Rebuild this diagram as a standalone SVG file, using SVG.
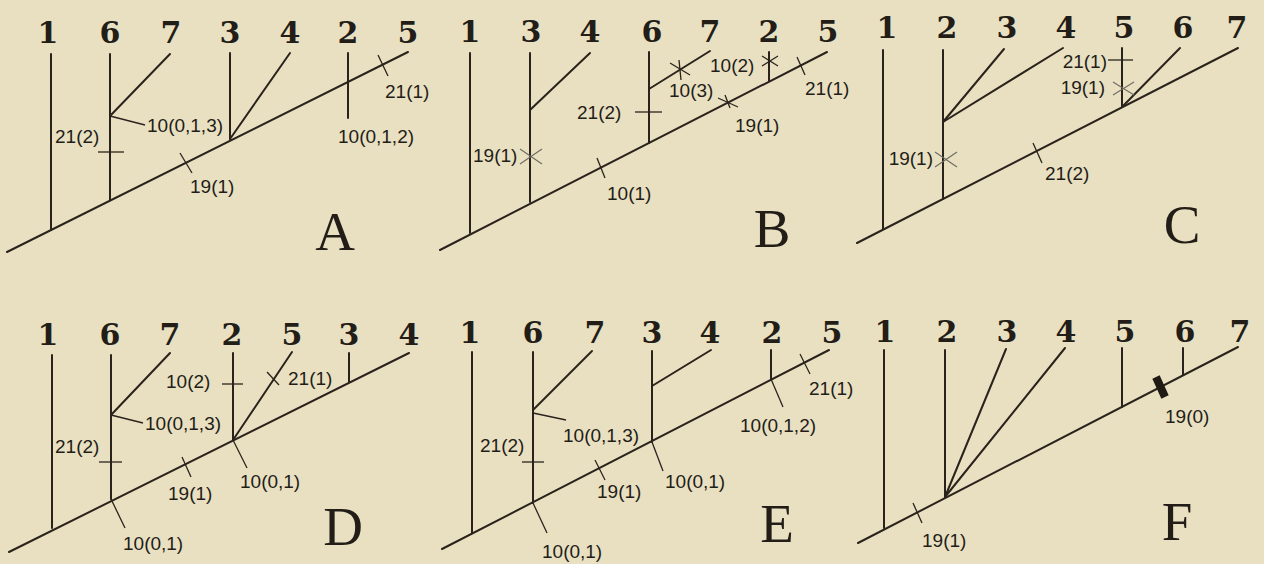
<svg xmlns="http://www.w3.org/2000/svg" width="1264" height="564" viewBox="0 0 1264 564">
<style>
.bg{fill:#e9e0c2}
.br{stroke:#2a231c;stroke-width:2;fill:none;stroke-linecap:round}
.th{stroke:#2a231c;stroke-width:1.3;fill:none}
.gx{stroke:#6e6a60;stroke-width:1.1;fill:none}
.bar{stroke:#1f1a14;stroke-width:8;fill:none}
.tx{font-family:"Dejavu Serif","DejaVu Serif",serif;font-weight:bold;font-size:30px;fill:#231d17;text-anchor:middle}
.lb{font-family:"Liberation Sans",Arial,sans-serif;font-size:19px;fill:#231d17}
.end{text-anchor:end}
.pl{font-family:"Liberation Serif","Times New Roman",serif;font-size:55px;fill:#231d17;text-anchor:middle}
</style>
<rect class="bg" x="0" y="0" width="1264" height="564"/>

<!-- Panel A -->
<g id="panelA">
<g id="A-connectors">
<line class="br" x1="7" y1="252" x2="408" y2="52"/>
<line class="br" x1="51" y1="54" x2="51" y2="230"/>
<line class="br" x1="110" y1="54" x2="110" y2="200"/>
<line class="br" x1="110" y1="116" x2="170" y2="54"/>
<line class="br" x1="230" y1="53" x2="230" y2="139"/>
<line class="br" x1="230" y1="139" x2="290" y2="53"/>
<line class="br" x1="348" y1="53" x2="348" y2="118"/>
<line class="th" x1="110" y1="116" x2="145" y2="125"/>
<line class="th" x1="98" y1="152" x2="124" y2="152"/>
<line class="th" x1="180" y1="153" x2="192" y2="173"/>
<line class="th" x1="378" y1="55" x2="388" y2="76"/>
</g>
<g id="A-taxa">
<text class="tx" x="48" y="43">1</text>
<text class="tx" x="110" y="43">6</text>
<text class="tx" x="171" y="43">7</text>
<text class="tx" x="230" y="43">3</text>
<text class="tx" x="290" y="43">4</text>
<text class="tx" x="348" y="43">2</text>
<text class="tx" x="408" y="43">5</text>
</g>
<g id="A-labels">
<text class="lb" x="55" y="143">21(2)</text>
<text class="lb" x="147" y="132">10(0,1,3)</text>
<text class="lb" x="190" y="193">19(1)</text>
<text class="lb" x="338" y="143">10(0,1,2)</text>
<text class="lb" x="385" y="98">21(1)</text>
<text class="pl" x="335" y="250">A</text>
</g>
</g>

<!-- Panel B -->
<g id="panelB">
<g id="B-connectors">
<line class="br" x1="440" y1="250" x2="827" y2="52"/>
<line class="br" x1="470" y1="53" x2="470" y2="233"/>
<line class="br" x1="530" y1="53" x2="530" y2="202"/>
<line class="br" x1="530" y1="110" x2="590" y2="53"/>
<line class="br" x1="649" y1="52" x2="649" y2="143"/>
<line class="br" x1="649" y1="89" x2="710" y2="51"/>
<line class="br" x1="769" y1="52" x2="769" y2="81"/>
<line class="gx" x1="520" y1="149" x2="542" y2="164"/>
<line class="gx" x1="520" y1="164" x2="542" y2="149"/>
<line class="th" x1="635" y1="112" x2="662" y2="112"/>
<line class="th" x1="670" y1="63" x2="690" y2="75"/>
<line class="th" x1="679" y1="60" x2="681" y2="80"/>
<line class="th" x1="762" y1="56" x2="778" y2="66"/>
<line class="th" x1="762" y1="66" x2="778" y2="56"/>
<line class="th" x1="718" y1="98" x2="738" y2="107"/>
<line class="th" x1="725" y1="95" x2="730" y2="108"/>
<line class="th" x1="797" y1="57" x2="805" y2="75"/>
<line class="th" x1="597" y1="158" x2="605" y2="178"/>
</g>
<g id="B-taxa">
<text class="tx" x="470" y="42">1</text>
<text class="tx" x="531" y="42">3</text>
<text class="tx" x="590" y="42">4</text>
<text class="tx" x="652" y="42">6</text>
<text class="tx" x="710" y="42">7</text>
<text class="tx" x="769" y="42">2</text>
<text class="tx" x="828" y="42">5</text>
</g>
<g id="B-labels">
<text class="lb" x="473" y="162">19(1)</text>
<text class="lb" x="577" y="119">21(2)</text>
<text class="lb" x="669" y="97">10(3)</text>
<text class="lb" x="710" y="72">10(2)</text>
<text class="lb" x="735" y="132">19(1)</text>
<text class="lb" x="805" y="95">21(1)</text>
<text class="lb" x="607" y="200">10(1)</text>
<text class="pl" x="772" y="247">B</text>
</g>
</g>

<!-- Panel C -->
<g id="panelC">
<g id="C-connectors">
<line class="br" x1="857" y1="243" x2="1238" y2="48"/>
<line class="br" x1="883" y1="50" x2="883" y2="229"/>
<line class="br" x1="943" y1="50" x2="943" y2="199"/>
<line class="br" x1="943" y1="122" x2="1004" y2="49"/>
<line class="br" x1="943" y1="122" x2="1063" y2="48"/>
<line class="br" x1="1122" y1="48" x2="1122" y2="107"/>
<line class="br" x1="1122" y1="107" x2="1180" y2="48"/>
<line class="gx" x1="935" y1="152" x2="957" y2="167"/>
<line class="gx" x1="935" y1="167" x2="957" y2="152"/>
<line class="th" x1="1033" y1="143" x2="1042" y2="163"/>
<line class="th" x1="1108" y1="60" x2="1133" y2="60"/>
<line class="gx" x1="1113" y1="82" x2="1134" y2="95"/>
<line class="gx" x1="1113" y1="95" x2="1134" y2="82"/>
</g>
<g id="C-taxa">
<text class="tx" x="887" y="38">1</text>
<text class="tx" x="947" y="38">2</text>
<text class="tx" x="1007" y="38">3</text>
<text class="tx" x="1066" y="38">4</text>
<text class="tx" x="1124" y="38">5</text>
<text class="tx" x="1183" y="38">6</text>
<text class="tx" x="1237" y="38">7</text>
</g>
<g id="C-labels">
<text class="lb end" x="933" y="165">19(1)</text>
<text class="lb" x="1045" y="180">21(2)</text>
<text class="lb end" x="1107" y="68">21(1)</text>
<text class="lb end" x="1105" y="94">19(1)</text>
<text class="pl" x="1182" y="243">C</text>
</g>
</g>

<!-- Panel D -->
<g id="panelD">
<g id="D-connectors">
<line class="br" x1="9" y1="552" x2="409" y2="353"/>
<line class="br" x1="52" y1="355" x2="52" y2="528"/>
<line class="br" x1="111" y1="355" x2="111" y2="499"/>
<line class="br" x1="111" y1="415" x2="170" y2="353"/>
<line class="br" x1="233" y1="353" x2="233" y2="440"/>
<line class="br" x1="233" y1="440" x2="292" y2="352"/>
<line class="br" x1="349" y1="353" x2="349" y2="382"/>
<line class="th" x1="111" y1="415" x2="143" y2="423"/>
<line class="th" x1="99" y1="462" x2="122" y2="462"/>
<line class="th" x1="182" y1="457" x2="191" y2="477"/>
<line class="th" x1="111" y1="499" x2="125" y2="528"/>
<line class="th" x1="222" y1="384" x2="243" y2="384"/>
<line class="th" x1="267" y1="372" x2="279" y2="385"/>
<line class="th" x1="233" y1="440" x2="247" y2="468"/>
</g>
<g id="D-taxa">
<text class="tx" x="48" y="345">1</text>
<text class="tx" x="110" y="345">6</text>
<text class="tx" x="170" y="345">7</text>
<text class="tx" x="232" y="345">2</text>
<text class="tx" x="292" y="345">5</text>
<text class="tx" x="349" y="345">3</text>
<text class="tx" x="409" y="345">4</text>
</g>
<g id="D-labels">
<text class="lb" x="145" y="430">10(0,1,3)</text>
<text class="lb" x="55" y="453">21(2)</text>
<text class="lb" x="168" y="500">19(1)</text>
<text class="lb" x="123" y="550">10(0,1)</text>
<text class="lb" x="166" y="388">10(2)</text>
<text class="lb" x="288" y="385">21(1)</text>
<text class="lb" x="240" y="488">10(0,1)</text>
<text class="pl" x="343" y="545">D</text>
</g>
</g>

<!-- Panel E -->
<g id="panelE">
<g id="E-connectors">
<line class="br" x1="442" y1="549" x2="829" y2="350"/>
<line class="br" x1="472" y1="352" x2="472" y2="533"/>
<line class="br" x1="533" y1="352" x2="533" y2="503"/>
<line class="br" x1="533" y1="410" x2="592" y2="351"/>
<line class="br" x1="652" y1="351" x2="652" y2="442"/>
<line class="br" x1="652" y1="386" x2="711" y2="350"/>
<line class="br" x1="771" y1="350" x2="771" y2="379"/>
<line class="th" x1="533" y1="413" x2="566" y2="420"/>
<line class="th" x1="522" y1="462" x2="544" y2="462"/>
<line class="th" x1="595" y1="460" x2="605" y2="480"/>
<line class="th" x1="533" y1="503" x2="547" y2="533"/>
<line class="th" x1="652" y1="442" x2="663" y2="471"/>
<line class="th" x1="771" y1="379" x2="783" y2="407"/>
<line class="th" x1="800" y1="354" x2="810" y2="374"/>
</g>
<g id="E-taxa">
<text class="tx" x="470" y="343">1</text>
<text class="tx" x="533" y="343">6</text>
<text class="tx" x="595" y="343">7</text>
<text class="tx" x="652" y="343">3</text>
<text class="tx" x="710" y="343">4</text>
<text class="tx" x="772" y="343">2</text>
<text class="tx" x="832" y="343">5</text>
</g>
<g id="E-labels">
<text class="lb" x="563" y="442">10(0,1,3)</text>
<text class="lb" x="480" y="452">21(2)</text>
<text class="lb" x="597" y="498">19(1)</text>
<text class="lb" x="542" y="558">10(0,1)</text>
<text class="lb" x="665" y="488">10(0,1)</text>
<text class="lb" x="740" y="432">10(0,1,2)</text>
<text class="lb" x="809" y="395">21(1)</text>
<text class="pl" x="777" y="542">E</text>
</g>
</g>

<!-- Panel F -->
<g id="panelF">
<g id="F-connectors">
<line class="br" x1="858" y1="543" x2="1238" y2="347"/>
<line class="br" x1="884" y1="350" x2="884" y2="528"/>
<line class="br" x1="945" y1="350" x2="945" y2="497"/>
<line class="br" x1="945" y1="497" x2="1006" y2="349"/>
<line class="br" x1="945" y1="497" x2="1065" y2="348"/>
<line class="br" x1="1122" y1="348" x2="1122" y2="407"/>
<line class="br" x1="1183" y1="348" x2="1183" y2="375"/>
<line class="th" x1="913" y1="503" x2="922" y2="523"/>
<line class="bar" x1="1156" y1="377" x2="1165" y2="397"/>
</g>
<g id="F-taxa">
<text class="tx" x="885" y="342">1</text>
<text class="tx" x="947" y="342">2</text>
<text class="tx" x="1007" y="342">3</text>
<text class="tx" x="1066" y="342">4</text>
<text class="tx" x="1125" y="342">5</text>
<text class="tx" x="1185" y="342">6</text>
<text class="tx" x="1240" y="342">7</text>
</g>
<g id="F-labels">
<text class="lb" x="922" y="547">19(1)</text>
<text class="lb" x="1165" y="423">19(0)</text>
<text class="pl" x="1177" y="540">F</text>
</g>
</g>
</svg>
